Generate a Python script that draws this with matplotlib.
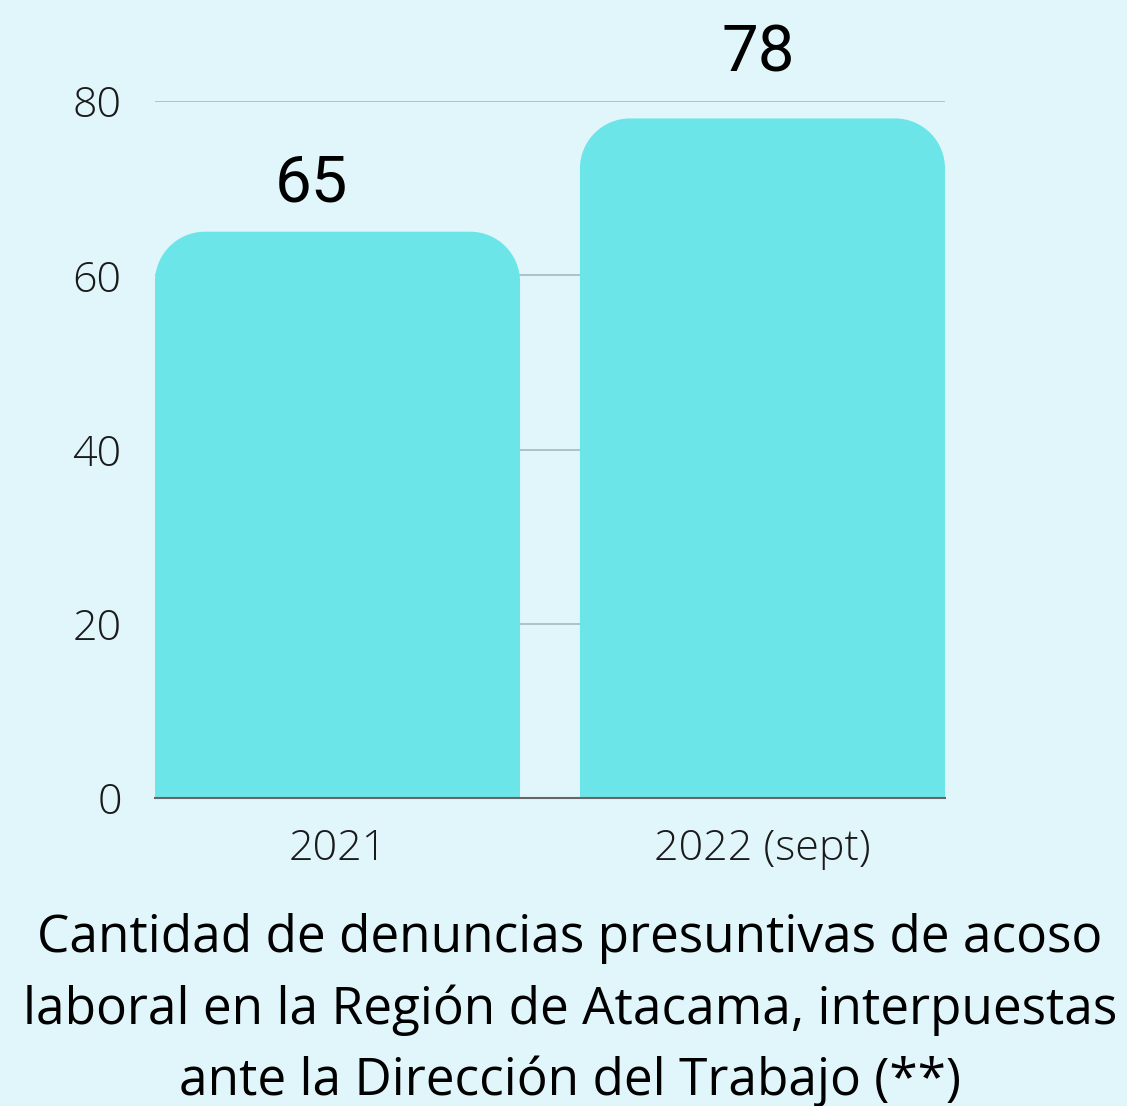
import numpy as np
import matplotlib
matplotlib.use("Agg")
import matplotlib.pyplot as plt
from matplotlib.path import Path
from matplotlib.patches import PathPatch

# data
years = ["2021", "2022 (sept)"]
denuncias = [65, 78]
yticks = [0, 20, 40, 60, 80]
titulo = ("Cantidad de denuncias presuntivas de acoso\n"
          "laboral en la Región de Atacama, interpuestas\n"
          "ante la Dirección del Trabajo (**)")

bg = "#e1f6fb"
barcol = "#6ce5e8"

fig = plt.figure(figsize=(11.27, 11.06), dpi=100, facecolor=bg)
ax = fig.add_axes([155/1127, 1-798/1106, 790/1127, 697/1106])
ax.set_facecolor(bg)

x = np.arange(len(years))
bars = ax.bar(x, denuncias, width=0.859, color=barcol)
ax.set_xlim(-0.4295, 1.4295)
ax.set_ylim(0, 80)

# rounded top corners
rx = 50 / 425
ry = 50 / (697 / 80)
k = 0.5523
for b in bars:
    x0, w, h = b.get_x(), b.get_width(), b.get_height()
    x1 = x0 + w
    verts = [(x0, 0), (x0, h - ry),
             (x0, h - ry + k*ry), (x0 + rx - k*rx, h), (x0 + rx, h),
             (x1 - rx, h),
             (x1 - rx + k*rx, h), (x1, h - ry + k*ry), (x1, h - ry),
             (x1, 0), (x0, 0)]
    codes = [Path.MOVETO, Path.LINETO,
             Path.CURVE4, Path.CURVE4, Path.CURVE4,
             Path.LINETO,
             Path.CURVE4, Path.CURVE4, Path.CURVE4,
             Path.LINETO, Path.CLOSEPOLY]
    ax.add_patch(PathPatch(Path(verts, codes), facecolor=barcol, edgecolor="none", zorder=2))
    b.remove()

label_dx = [-0.062, -0.01]
label_dy = [2.0, 3.9]
for xi, v, dx, dy in zip(x, denuncias, label_dx, label_dy):
    ax.text(xi + dx, v + dy, str(v), ha="center", va="bottom", fontsize=47,
            family="Roboto", color="black", clip_on=False)

ax.set_yticks(yticks)
ax.set_xticks(x)
ax.set_xticklabels(years)
ax.tick_params(length=0, labelsize=31, colors="#1a1a1a")
ax.tick_params(axis="y", pad=24)
ax.tick_params(axis="x", pad=21)
for lab in ax.get_xticklabels() + ax.get_yticklabels():
    lab.set_family("Open Sans")
    lab.set_fontweight("light")
ax.yaxis.grid(True, color="#a3b8bf", linewidth=1.2, zorder=0)
ax.set_axisbelow(True)
for s in ["top", "right", "left"]:
    ax.spines[s].set_visible(False)
ax.spines["bottom"].set_color("#666666")
ax.spines["bottom"].set_linewidth(1.5)
ax.spines["bottom"].set_zorder(3)

fig.text(570/1127, 1-1010/1106, titulo, ha="center", va="center", fontsize=37,
         family="Open Sans", linespacing=1.5, color="black")

fig.savefig("out.png", dpi=100, facecolor=bg)
